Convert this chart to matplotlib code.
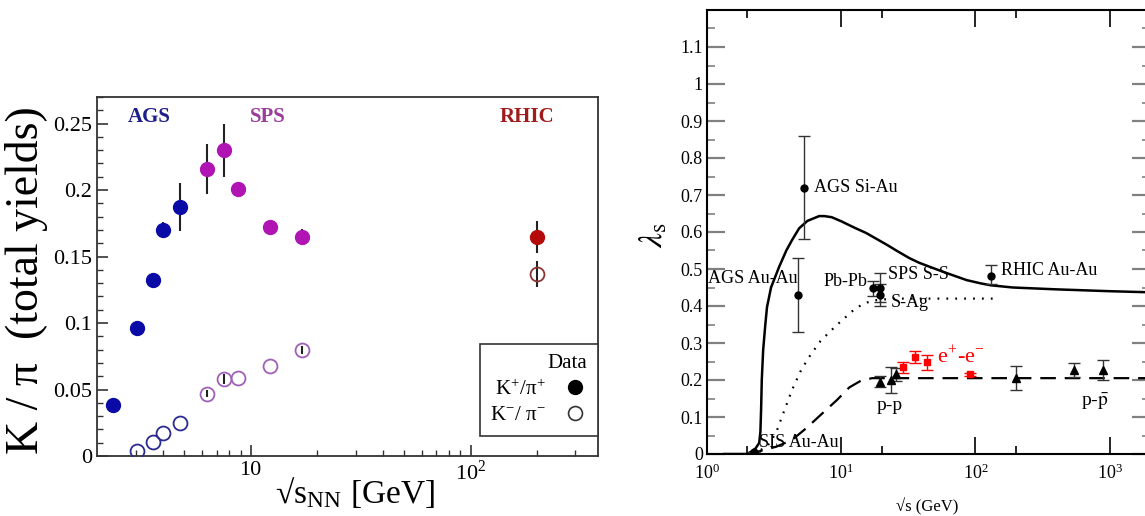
import matplotlib
matplotlib.use('Agg')
import matplotlib.pyplot as plt
from matplotlib.lines import Line2D
from matplotlib.ticker import FixedLocator, FixedFormatter, MultipleLocator, FormatStrFormatter, NullFormatter

plt.rcParams['font.family'] = ['Liberation Serif', 'DejaVu Serif']
plt.rcParams['mathtext.fontset'] = 'stix'

# ---- left panel: K/pi ratio vs energy ----
ags_x = [2.36, 3.03, 3.59, 3.98, 4.76]
ags_kp = [0.038, 0.096, 0.132, 0.170, 0.187]
ags_kp_err = [0.0, 0.0, 0.0, 0.006, 0.018]
ags_km_x = [3.03, 3.59, 3.98, 4.76]
ags_km = [0.004, 0.0105, 0.017, 0.025]

sps_x = [6.3, 7.6, 8.8, 12.2, 17.2]
sps_kp = [0.216, 0.230, 0.201, 0.172, 0.165]
sps_kp_err = [0.019, 0.020, 0.005, 0.0, 0.006]
sps_km = [0.047, 0.058, 0.059, 0.068, 0.080]
sps_km_err = [0.003, 0.004, 0.0, 0.0, 0.003]

rhic_x = [200]
rhic_kp = [0.165]
rhic_kp_err = [0.012]
rhic_km = [0.137]
rhic_km_err = [0.010]

# ---- right panel: lambda_s vs energy ----
solid_x = [1.35, 2.0, 2.17, 2.3, 2.45, 2.5, 2.53, 2.56, 2.62, 2.72, 2.8, 3.0, 3.44,
           3.9, 4.3, 4.86, 5.6, 6.85, 7.5, 8.5, 10.0, 12.5, 15.4, 18.0, 22.0, 26.0,
           32.0, 38.0, 48.0, 60.0, 86.0, 110.0, 130.0, 190.0, 400.0, 1000.0, 2000.0]
solid_y = [0.0, 0.0, 0.008, 0.015, 0.03, 0.06, 0.12, 0.20, 0.28, 0.35, 0.397, 0.45, 0.505,
           0.55, 0.578, 0.61, 0.63, 0.643, 0.643, 0.64, 0.629, 0.612, 0.597, 0.583, 0.565, 0.549,
           0.53, 0.517, 0.503, 0.49, 0.47, 0.461, 0.456, 0.45, 0.445, 0.44, 0.437]
dotted_x = [2.2, 2.8, 3.27, 3.7, 4.3, 5.0, 5.76, 7.0, 8.2, 9.3, 10.5, 12.0, 14.0, 17.0,
            25.0, 50.0, 150.0]
dotted_y = [0.0, 0.02, 0.057, 0.11, 0.173, 0.225, 0.262, 0.305, 0.33, 0.349, 0.366, 0.385,
            0.402, 0.415, 0.42, 0.42, 0.42]
dashed_x = [2.0, 2.5, 3.3, 4.3, 5.5, 7.0, 9.3, 11.5, 14.0, 17.0, 2000.0]
dashed_y = [0.0, 0.008, 0.02, 0.038, 0.07, 0.105, 0.146, 0.18, 0.198, 0.205, 0.205]

aa_x = [2.24, 4.8, 5.3, 17.3, 19.4, 19.4, 130.0]
aa_y = [0.005, 0.43, 0.72, 0.448, 0.45, 0.43, 0.48]
aa_lo = [0.0, 0.10, 0.14, 0.02, 0.04, 0.03, 0.02]
aa_hi = [0.0, 0.10, 0.14, 0.02, 0.04, 0.03, 0.03]

pp_x = [19.3, 23.5, 25.7, 200.0, 546.0, 900.0]
pp_y = [0.195, 0.20, 0.215, 0.205, 0.227, 0.227]
pp_err = [0.015, 0.035, 0.018, 0.032, 0.02, 0.027]

ee_x = [28.7, 35.2, 43.3, 91.2]
ee_y = [0.235, 0.262, 0.248, 0.215]
ee_err = [0.015, 0.017, 0.02, 0.004]

fig = plt.figure(figsize=(11.45, 5.16), dpi=100)
W, H = 1145, 516
ax1 = fig.add_axes([97 / W, 1 - 456 / H, (598 - 97) / W, (456 - 97) / H])
ax2 = fig.add_axes([707 / W, 1 - 454 / H, (1150 - 707) / W, (454 - 10) / H])

# left panel
blue, blue_open = '#0a0aa6', '#2a2a90'
mag, mag_open = '#b015b4', '#a060b8'
red, red_open = '#b40a0a', '#8c3434'
ms = 10

for xs, ys, es in [(ags_x, ags_kp, ags_kp_err), (sps_x, sps_kp, sps_kp_err),
                   (rhic_x, rhic_kp, rhic_kp_err), (sps_x, sps_km, sps_km_err),
                   (rhic_x, rhic_km, rhic_km_err)]:
    ax1.errorbar(xs, ys, yerr=es, fmt='none', ecolor='#222222', elinewidth=1.5, zorder=2)

ax1.plot(ags_x, ags_kp, 'o', color=blue, ms=ms, zorder=3)
ax1.plot(sps_x, sps_kp, 'o', color=mag, ms=ms, zorder=3)
ax1.plot(rhic_x, rhic_kp, 'o', color=red, ms=ms, zorder=3)
ax1.plot(ags_km_x, ags_km, 'o', mfc='none', mec=blue_open, mew=1.3, ms=ms, zorder=3)
ax1.plot(sps_x, sps_km, 'o', mfc='none', mec=mag_open, mew=1.3, ms=ms, zorder=3)
ax1.plot(rhic_x, rhic_km, 'o', mfc='none', mec=red_open, mew=1.3, ms=ms, zorder=3)

ax1.set_xscale('log')
ax1.set_xlim(2, 380)
ax1.set_ylim(0, 0.27)
ax1.xaxis.set_major_locator(FixedLocator([10, 100]))
ax1.xaxis.set_major_formatter(FixedFormatter(['10', r'10$^{\mathregular{2}}$']))
ax1.xaxis.set_minor_locator(FixedLocator([3, 4, 5, 6, 7, 8, 9, 20, 30, 40, 50, 60, 70, 80, 90, 200, 300]))
ax1.xaxis.set_minor_formatter(NullFormatter())
ax1.yaxis.set_major_locator(MultipleLocator(0.05))
ax1.yaxis.set_minor_locator(MultipleLocator(0.01))
ax1.yaxis.set_major_formatter(FormatStrFormatter('%g'))
ax1.tick_params(which='both', direction='in', labelsize=16, color='#333333')
ax1.tick_params(which='major', length=8, width=1.2)
ax1.tick_params(which='minor', length=4, width=1.0)
for sp in ax1.spines.values():
    sp.set_color('#333333')
    sp.set_linewidth(1.3)

ax1.set_ylabel('K / π  (total yields)', fontsize=33, va='center')
ax1.yaxis.set_label_coords(-0.14, 0.49)
ax1.set_xlabel(r'√s$_{\mathregular{NN}}$ [GeV]', fontsize=24, va='top')
ax1.xaxis.set_label_coords(0.515, -0.052)

ax1.text(0.104, 0.944, 'AGS', transform=ax1.transAxes, ha='center', va='center',
         fontsize=15, color='#1e1e8c', fontweight='bold')
ax1.text(0.341, 0.944, 'SPS', transform=ax1.transAxes, ha='center', va='center',
         fontsize=15, color='#9a3c9a', fontweight='bold')
ax1.text(0.858, 0.944, 'RHIC', transform=ax1.transAxes, ha='center', va='center',
         fontsize=15, color='#a01c1c', fontweight='bold')

handles = [Line2D([], [], ls='none', marker='o', color='black', ms=10),
           Line2D([], [], ls='none', marker='o', mfc='none', mec='#333333', mew=1.2, ms=10)]
labels = [r'K$^{\mathregular{+}}$/π$^{\mathregular{+}}$', r'K$^{\mathregular{-}}$/ π$^{\mathregular{-}}$']
leg = ax1.legend(handles, labels, loc='lower right', bbox_to_anchor=(1.0, 0.056),
                 borderaxespad=0, fontsize=15, title='Data', title_fontsize=15,
                 alignment='right', markerfirst=False, fancybox=False,
                 handlelength=1.2, handletextpad=0.8, labelspacing=0.3,
                 borderpad=0.5, framealpha=1)
leg.get_frame().set_edgecolor('#333333')
leg.get_frame().set_linewidth(1.2)

# right panel
ax2.plot(solid_x, solid_y, '-', color='black', lw=1.8, zorder=2)
ax2.plot(dotted_x, dotted_y, color='black', lw=1.6, ls=(0, (0.8, 3.2)), zorder=2)
ax2.plot(dashed_x, dashed_y, color='black', lw=1.6, ls=(0, (7, 4)), zorder=2)

ax2.errorbar(aa_x, aa_y, yerr=[aa_lo, aa_hi], fmt='o', color='black', ms=5,
             ecolor='#333333', elinewidth=1.0, capsize=4.5, capthick=1.0, zorder=3)
ax2.errorbar(pp_x, pp_y, yerr=pp_err, fmt='^', color='black', ms=6,
             ecolor='#333333', elinewidth=1.0, capsize=4.5, capthick=1.0, zorder=3)
ax2.errorbar(ee_x, ee_y, yerr=ee_err, fmt='s', color='#ff0000', ms=5,
             ecolor='#ff0000', elinewidth=1.0, capsize=4.5, capthick=1.0, zorder=3)

ax2.set_xscale('log')
ax2.set_xlim(1, 2000)
ax2.set_ylim(0, 1.2)
ax2.xaxis.set_major_locator(FixedLocator([1, 10, 100, 1000]))
ax2.xaxis.set_major_formatter(FixedFormatter([r'10$^{\mathregular{0}}$', r'10$^{\mathregular{1}}$',
                                              r'10$^{\mathregular{2}}$', r'10$^{\mathregular{3}}$']))
ax2.xaxis.set_minor_locator(FixedLocator([2, 20, 200, 2000]))
ax2.xaxis.set_minor_formatter(NullFormatter())
ax2.yaxis.set_major_locator(FixedLocator([0, 0.1, 0.2, 0.3, 0.4, 0.5, 0.6, 0.7, 0.8, 0.9, 1.0, 1.1]))
ax2.yaxis.set_minor_locator(MultipleLocator(0.05))
ax2.yaxis.set_major_formatter(FormatStrFormatter('%g'))
ax2.tick_params(which='both', direction='in', top=True, right=True, labelsize=13)
ax2.tick_params(axis='x', which='major', length=12, width=1.2, color='black', pad=7)
ax2.tick_params(axis='x', which='minor', length=6, width=1.2, color='black')
ax2.tick_params(axis='y', which='major', length=13, width=1.6, color='#808080', pad=3)
ax2.tick_params(axis='y', which='minor', length=6, width=1.2, color='#808080')
for sp in ax2.spines.values():
    sp.set_linewidth(1.5)

ax2.set_ylabel(r'$\lambda_{\rm s}$', fontsize=24, va='center')
ax2.yaxis.set_label_coords(-0.12, 0.493)
ax2.set_xlabel('√s (GeV)', fontsize=12, va='top')
ax2.xaxis.set_label_coords(0.497, -0.1)

ax2.text(6.3, 0.72, 'AGS Si-Au', fontsize=13, va='center', ha='left')
ax2.text(1.02, 0.473, 'AGS Au-Au', fontsize=13, va='center', ha='left')
ax2.text(15.6, 0.465, 'Pb-Pb', fontsize=13, va='center', ha='right')
ax2.text(22.4, 0.486, 'SPS S-S', fontsize=13, va='center', ha='left')
ax2.text(23.6, 0.41, 'S-Ag', fontsize=13, va='center', ha='left')
ax2.text(2.44, 0.032, 'SIS Au-Au', fontsize=13, va='center', ha='left')
ax2.text(156, 0.495, 'RHIC Au-Au', fontsize=13, va='center', ha='left')
ax2.text(22.8, 0.132, 'p-p', fontsize=14, va='center', ha='center')
ax2.text(773, 0.14, r'p-$\bar{\mathrm{p}}$', fontsize=14, va='center', ha='center')
ax2.text(52, 0.262, r'e$^{\mathregular{+}}$-e$^{\mathregular{-}}$', fontsize=16,
         va='center', ha='left', color='#ff0000')

fig.savefig('out.png', dpi=100)
